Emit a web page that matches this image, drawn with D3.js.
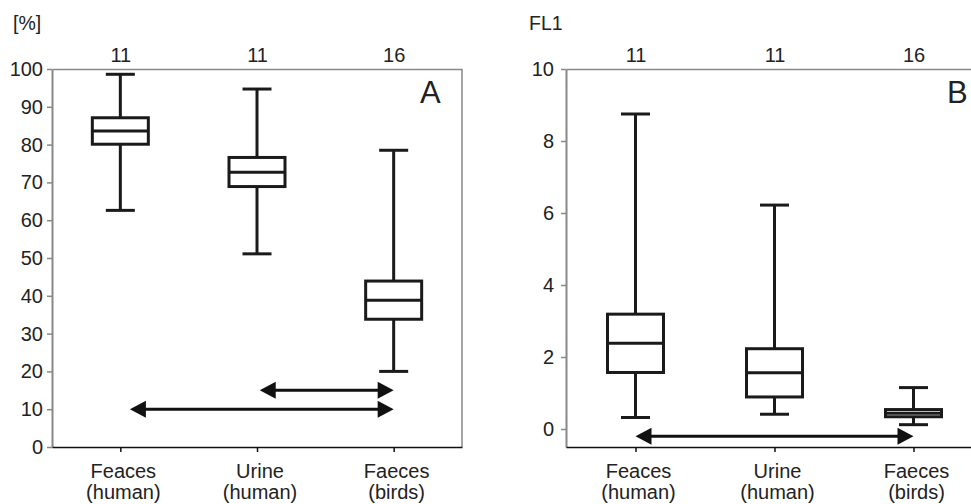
<!DOCTYPE html>
<html>
<head>
<meta charset="utf-8">
<script src="https://cdn.jsdelivr.net/npm/d3@7"></script>
<style>
  body { margin: 0; background: #fff; }
  text { font-family: "Liberation Sans", Arial, sans-serif; fill: #222; }
</style>
</head>
<body>
<script>
// Box plots: share of stained cells [%] and FL1 intensity by sample origin

const categories = [["Feaces", "(human)"], ["Urine", "(human)"], ["Faeces", "(birds)"]];
const counts = [11, 11, 16];

// [lower whisker, Q1, median, Q3, upper whisker]
const pctStats = [
    [62.6, 80.1, 83.6, 87.1, 98.6],
    [51.1, 68.9, 72.7, 76.6, 94.7],
    [20.0, 33.8, 38.8, 43.9, 78.5]
];
const fl1Stats = [
    [0.32, 1.57, 2.38, 3.19, 8.75],
    [0.41, 0.89, 1.56, 2.23, 6.22],
    [0.12, 0.34, 0.44, 0.54, 1.15]
];

const pctTicks = [0, 10, 20, 30, 40, 50, 60, 70, 80, 90, 100];
const fl1Ticks = [0, 2, 4, 6, 8, 10];

// significance arrows: category index (fractional) from -> to, at value y
const pctArrows = [
    {from: 0.07, to: 2, y: 10},
    {from: 1.02, to: 2, y: 15}
];
const fl1Arrows = [
    {from: 0, to: 2, y: -0.2}
];

const svg = d3.select("body")
    .append("svg")
    .attr("width", 971)
    .attr("height", 504);

function drawPanel(p) {
    const width = p.right - p.left,
        height = 447 - 69;

    const g = svg.append("g")
        .attr("transform", `translate(${p.left},69)`);

    const x = d3.scalePoint()
        .domain(d3.range(categories.length))
        .range([0, width])
        .padding(0.5);

    // fractional index positions for the arrows
    const xi = d3.scaleLinear()
        .domain([0, categories.length - 1])
        .range([x(0), x(categories.length - 1)]);

    const y = d3.scaleLinear()
        .domain(p.domain)
        .range([height, 0]);

    // Y axis
    const ya = g.append("g")
        .call(d3.axisLeft(y).tickValues(p.ticks).tickSize(5).tickSizeOuter(0).tickPadding(p.pad));
    ya.select(".domain").attr("stroke", "#888").attr("stroke-width", 2);
    ya.selectAll(".tick line").attr("stroke", "#888").attr("stroke-width", 1.5);
    ya.selectAll(".tick text").attr("font-size", 20).attr("fill", "#222");

    // top line with counts
    const ta = g.append("g")
        .call(d3.axisTop(x).tickSize(0).tickSizeOuter(0).tickPadding(7).tickFormat(i => counts[i]));
    ta.select(".domain").attr("stroke", "#888").attr("stroke-width", 1.5);
    ta.selectAll(".tick text").attr("font-size", 20).attr("fill", "#222");

    // right frame
    g.append("line")
        .attr("x1", width).attr("x2", width)
        .attr("y1", 0).attr("y2", height)
        .attr("stroke", "#888").attr("stroke-width", 1.5);

    // X axis
    const xa = g.append("g")
        .attr("transform", `translate(0,${height})`)
        .call(d3.axisBottom(x).tickSize(5).tickSizeOuter(0).tickPadding(10).tickFormat(""));
    xa.select(".domain").attr("stroke", "#111").attr("stroke-width", 1.5);
    xa.selectAll(".tick line").attr("stroke", "#111").attr("stroke-width", 1.5);

    g.selectAll(".cat")
        .data(categories)
        .enter()
        .append("text")
        .attr("class", "cat")
        .attr("text-anchor", "middle")
        .attr("font-size", 20)
        .attr("transform", (d, i) => `translate(${x(i) + 3},${height + 31})`)
        .selectAll("tspan")
        .data(d => d)
        .enter()
        .append("tspan")
        .attr("x", 0)
        .attr("dy", (d, i) => i ? 21 : 0)
        .text(d => d);

    // axis title
    svg.append("text")
        .attr("x", p.titleX)
        .attr("y", 30)
        .attr("font-size", 19.5)
        .text(p.title);

    // panel letter
    g.append("text")
        .attr("x", p.letterX)
        .attr("y", 34)
        .attr("font-size", 31)
        .text(p.letter);

    // Boxes
    const boxW = 56, capW = 29;
    const boxes = g.selectAll(".box")
        .data(p.stats)
        .enter()
        .append("g")
        .attr("class", "box")
        .attr("stroke", "#1a1a1a")
        .attr("stroke-width", 3)
        .attr("fill", "none");

    boxes.append("line")
        .attr("x1", (d, i) => x(i)).attr("x2", (d, i) => x(i))
        .attr("y1", d => y(d[0])).attr("y2", d => y(d[4]));
    boxes.append("line")
        .attr("x1", (d, i) => x(i) - capW / 2).attr("x2", (d, i) => x(i) + capW / 2)
        .attr("y1", d => y(d[0])).attr("y2", d => y(d[0]));
    boxes.append("line")
        .attr("x1", (d, i) => x(i) - capW / 2).attr("x2", (d, i) => x(i) + capW / 2)
        .attr("y1", d => y(d[4])).attr("y2", d => y(d[4]));
    boxes.append("rect")
        .attr("x", (d, i) => x(i) - boxW / 2)
        .attr("y", d => y(d[3]))
        .attr("width", boxW)
        .attr("height", d => y(d[1]) - y(d[3]))
        .attr("fill", "#fff");
    boxes.append("line")
        .attr("x1", (d, i) => x(i) - boxW / 2).attr("x2", (d, i) => x(i) + boxW / 2)
        .attr("y1", d => y(d[2])).attr("y2", d => y(d[2]));

    // Arrows
    const headL = 16, headH = 8.5;
    const arrows = g.selectAll(".arrow")
        .data(p.arrows)
        .enter()
        .append("g")
        .attr("class", "arrow");

    arrows.append("line")
        .attr("x1", d => xi(d.from) + headL - 2).attr("x2", d => xi(d.to) - headL + 2)
        .attr("y1", d => y(d.y)).attr("y2", d => y(d.y))
        .attr("stroke", "#111").attr("stroke-width", 3);
    arrows.append("path")
        .attr("fill", "#111")
        .attr("d", d => {
            const a = xi(d.from), b = xi(d.to), yy = y(d.y);
            return `M${a},${yy}L${a + headL},${yy - headH}L${a + headL},${yy + headH}Z` +
                `M${b},${yy}L${b - headL},${yy - headH}L${b - headL},${yy + headH}Z`;
        });
}

drawPanel({
    left: 52, right: 462, domain: [0, 100], ticks: pctTicks, pad: 4,
    stats: pctStats, arrows: pctArrows,
    title: "[%]", titleX: 13, letter: "A", letterX: 368
});

drawPanel({
    left: 566, right: 983, domain: [-0.5, 10], ticks: fl1Ticks, pad: 7,
    stats: fl1Stats, arrows: fl1Arrows,
    title: "FL1", titleX: 529, letter: "B", letterX: 381
});
</script>
</body>
</html>
